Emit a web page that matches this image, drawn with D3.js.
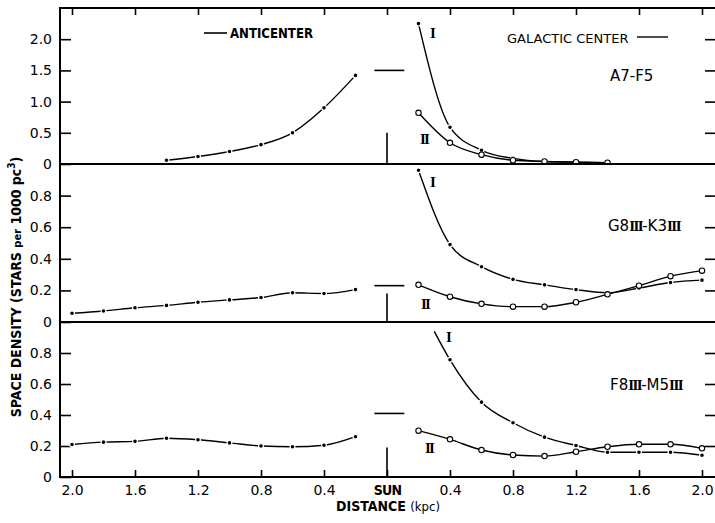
<!DOCTYPE html>
<html><head><meta charset="utf-8">
<script src="https://cdn.jsdelivr.net/npm/d3@7"></script>
<style>body{margin:0;background:#fff}svg{display:block}</style>
</head><body><svg id="c" width="715" height="523"></svg>
<script>
// ---- tick labels / categories ----
const xTickValues = [-2, -1.6, -1.2, -0.8, -0.4, 0, 0.4, 0.8, 1.2, 1.6, 2];
const topYTicks = [0, 0.5, 1.0, 1.5, 2.0];
const lowYTicks = [0, 0.2, 0.4, 0.6, 0.8];
const panelNames = ["A7-F5", "G8III-K3III", "F8III-M5III"];

// ---- A7-F5 ----
const a7AntiDist = [1.4, 1.2, 1.0, 0.8, 0.6, 0.4, 0.2];
const a7Anti     = [0.06, 0.12, 0.2, 0.31, 0.5, 0.9, 1.42];
const a7CenDist  = [0.2, 0.4, 0.6, 0.8, 1.0, 1.2, 1.4];
const a7I        = [2.25, 0.59, 0.22, 0.09, 0.04, 0.03, 0.02];
const a7II       = [0.82, 0.34, 0.15, 0.06, 0.04, 0.03, 0.02];

// ---- G8III-K3III ----
const g8AntiDist = [2.0, 1.8, 1.6, 1.4, 1.2, 1.0, 0.8, 0.6, 0.4, 0.2];
const g8Anti     = [0.055, 0.07, 0.09, 0.105, 0.125, 0.14, 0.155, 0.185, 0.18, 0.205];
const g8CenDist  = [0.2, 0.4, 0.6, 0.8, 1.0, 1.2, 1.4, 1.6, 1.8, 2.0];
const g8I        = [0.96, 0.49, 0.35, 0.27, 0.235, 0.205, 0.185, 0.215, 0.25, 0.265];
const g8II       = [0.235, 0.16, 0.115, 0.097, 0.097, 0.125, 0.175, 0.23, 0.29, 0.325];

// ---- F8III-M5III ----
const f8AntiDist = [2.0, 1.8, 1.6, 1.4, 1.2, 1.0, 0.8, 0.6, 0.4, 0.2];
const f8Anti     = [0.21, 0.225, 0.23, 0.25, 0.24, 0.22, 0.2, 0.195, 0.205, 0.26];
const f8IDist    = [0.3, 0.4, 0.6, 0.8, 1.0, 1.2, 1.4, 1.6, 1.8, 2.0];
const f8I        = [0.94, 0.756, 0.483, 0.35, 0.257, 0.203, 0.16, 0.16, 0.16, 0.14];
const f8IIDist   = [0.2, 0.4, 0.6, 0.8, 1.0, 1.2, 1.4, 1.6, 1.8, 2.0];
const f8II       = [0.299, 0.243, 0.174, 0.142, 0.135, 0.163, 0.195, 0.211, 0.211, 0.185];

// solar neighbourhood level (dash) and sun marker height per panel
const sunLevel = [1.5, 0.23, 0.41];
const sunBar   = [0.5, 0.18, 0.19];

// ---- layout ----
const svg = d3.select("#c");
const L = 60, R = 716, T = 8, B = 477;
const x = d3.scaleLinear().domain([-2, 2]).range([72, 702]);
const tickFont = "'DejaVu Sans', sans-serif";
const condFont = "'Liberation Sans Narrow','DejaVu Sans Condensed','Arial Narrow',sans-serif";
const serif = "'Liberation Serif','DejaVu Serif',serif";

const zip = (ds, vs, sign) => ds.map((d, i) => ({d: sign * d, v: vs[i]}));

const panels = [
  {yDomain: [0, 2.5], yRange: [164, 8], ticks: topYTicks, fmt: d => d === 0 ? "0" : d.toFixed(1),
   anti: zip(a7AntiDist, a7Anti, -1), I: zip(a7CenDist, a7I, 1), II: zip(a7CenDist, a7II, 1), iMarkFrom: 0,
   labI: [433, 33], labII: [424, 139], name: [610, 75]},
  {yDomain: [0, 1], yRange: [322, 164], ticks: lowYTicks, fmt: d => d === 0 ? "0" : d.toFixed(1),
   anti: zip(g8AntiDist, g8Anti, -1), I: zip(g8CenDist, g8I, 1), II: zip(g8CenDist, g8II, 1), iMarkFrom: 0,
   labI: [433, 182], labII: [425, 304], name: [608, 225]},
  {yDomain: [0, 1], yRange: [477, 322], ticks: lowYTicks, fmt: d => d === 0 ? "0" : d.toFixed(1),
   anti: zip(f8AntiDist, f8Anti, -1), I: zip(f8IDist, f8I, 1), II: zip(f8IIDist, f8II, 1), iMarkFrom: 1,
   labI: [449, 337], labII: [429, 448], name: [610, 384]}
];

panels.forEach((p, k) => {
  const y = d3.scaleLinear().domain(p.yDomain).range(p.yRange);
  const g = svg.append("g");
  // left axis
  const ax = d3.axisLeft(y).tickValues(p.ticks).tickFormat(p.fmt).tickSizeInner(-11).tickSizeOuter(0).tickPadding(8);
  const ga = g.append("g").attr("transform", `translate(${L},0)`).call(ax);
  ga.select(".domain").remove();
  ga.selectAll("line").attr("stroke", "#000").attr("stroke-width", 1.6);
  ga.selectAll("text").attr("font-family", tickFont).attr("font-size", 14).attr("fill", "#000");
  // right axis ticks
  const ar = d3.axisRight(y).tickValues(p.ticks.filter(t => t > 0)).tickFormat("").tickSizeInner(-11).tickSizeOuter(0);
  const gr = g.append("g").attr("transform", `translate(${R},0)`).call(ar);
  gr.select(".domain").remove();
  gr.selectAll("line").attr("stroke", "#000").attr("stroke-width", 1.6);

  const line = d3.line().x(d => x(d.d)).y(d => y(d.v)).curve(d3.curveMonotoneX);
  const clipId = "clip" + k;
  svg.append("clipPath").attr("id", clipId).append("rect")
    .attr("x", L).attr("y", p.yRange[1]).attr("width", R - L).attr("height", p.yRange[0] - p.yRange[1]);
  const gc = g.append("g").attr("clip-path", `url(#${clipId})`);
  [p.anti, p.I, p.II].forEach(s => {
    gc.append("path").datum(s).attr("d", line).attr("fill", "none").attr("stroke", "#000").attr("stroke-width", 1.4);
  });
  // filled markers
  gc.selectAll(".fa").data(p.anti).join("circle").attr("cx", d => x(d.d)).attr("cy", d => y(d.v))
    .attr("r", 2.4).attr("fill", "#000").attr("stroke", "#fff").attr("stroke-width", 1.2);
  gc.selectAll(".fi").data(p.I.slice(p.iMarkFrom)).join("circle").attr("cx", d => x(d.d)).attr("cy", d => y(d.v))
    .attr("r", 2.4).attr("fill", "#000").attr("stroke", "#fff").attr("stroke-width", 1.2);
  gc.selectAll(".oi").data(p.II).join("circle").attr("cx", d => x(d.d)).attr("cy", d => y(d.v))
    .attr("r", 2.7).attr("fill", "#fff").attr("stroke", "#000").attr("stroke-width", 1.1);

  // sun markers
  g.append("line").attr("x1", x(-0.08)).attr("x2", x(0.11)).attr("y1", y(sunLevel[k])).attr("y2", y(sunLevel[k]))
    .attr("stroke", "#000").attr("stroke-width", 1.6);
  g.append("line").attr("x1", x(0)).attr("x2", x(0)).attr("y1", y(0)).attr("y2", y(sunBar[k]))
    .attr("stroke", "#000").attr("stroke-width", 1.6);

  // roman labels
  g.append("text").attr("x", p.labI[0]).attr("y", p.labI[1] + 5).attr("font-family", serif).attr("font-weight", "bold")
    .attr("font-size", 15).attr("text-anchor", "middle").text("I");
  g.append("text").attr("x", p.labII[0]).attr("y", p.labII[1] + 5).attr("font-family", serif).attr("font-weight", "bold")
    .attr("font-size", 15).attr("letter-spacing", -1.8).attr("text-anchor", "middle").text("II");

  // panel name
  const nt = g.append("text").attr("x", p.name[0]).attr("y", p.name[1] + 6).attr("font-family", tickFont).attr("font-size", 15);
  const nm = panelNames[k];
  const parts = nm.split(/(III)/).filter(s => s.length);
  parts.forEach(s => {
    const ts = nt.append("tspan").text(s);
    if (s === "III") ts.attr("font-family", serif).attr("font-weight", "bold").attr("letter-spacing", -1.5);
  });
});

// frame lines
const hl = [T, 164, 322, B];
svg.selectAll(".hl").data(hl).join("line").attr("x1", L).attr("x2", R).attr("y1", d => d).attr("y2", d => d)
  .attr("stroke", "#000").attr("stroke-width", 2);
svg.append("line").attr("x1", L).attr("x2", L).attr("y1", T - 1).attr("y2", B + 1).attr("stroke", "#000").attr("stroke-width", 2);

// top ticks
const at = d3.axisTop(x).tickValues(xTickValues).tickFormat("").tickSizeInner(-7).tickSizeOuter(0);
const gt = svg.append("g").attr("transform", `translate(0,${T})`).call(at);
gt.select(".domain").remove();
gt.selectAll("line").attr("stroke", "#000").attr("stroke-width", 1.6);

// bottom axis
const ab = d3.axisBottom(x).tickValues(xTickValues).tickFormat(d => d === 0 ? "SUN" : Math.abs(d).toFixed(1))
  .tickSizeInner(-7).tickSizeOuter(0).tickPadding(8);
const gb = svg.append("g").attr("transform", `translate(0,${B})`).call(ab);
gb.select(".domain").remove();
gb.selectAll("line").attr("stroke", "#000").attr("stroke-width", 1.6);
gb.selectAll("text").attr("font-family", tickFont).attr("font-size", 14).attr("fill", "#000");
gb.selectAll("text").filter(d => d === 0).attr("font-family", condFont).attr("font-weight", "bold").attr("letter-spacing", -0.8);

// axis titles
svg.append("text").attr("x", 388).attr("y", 511).attr("text-anchor", "middle").attr("font-family", condFont)
  .attr("font-weight", "bold").attr("font-size", 14)
  .call(t => { t.append("tspan").text("DISTANCE  "); t.append("tspan").attr("font-weight", "normal").attr("font-size", 13).text("(kpc)"); });

const yl = svg.append("text").attr("transform", "translate(21,287) rotate(-90)").attr("text-anchor", "middle")
  .attr("font-family", condFont).attr("font-weight", "bold").attr("font-size", 14);
yl.append("tspan").text("SPACE DENSITY (STARS ");
yl.append("tspan").attr("font-size", 11).text("per");
yl.append("tspan").text(" 1000 pc");
yl.append("tspan").attr("font-size", 10).attr("dy", -6).text("3");
yl.append("tspan").attr("dy", 6).text(")");

// direction labels
svg.append("line").attr("x1", 204).attr("x2", 227).attr("y1", 33).attr("y2", 33).attr("stroke", "#000").attr("stroke-width", 1.6);
svg.append("text").attr("x", 230).attr("y", 38).attr("font-family", condFont).attr("font-weight", "bold")
  .attr("font-size", 14).attr("textLength", 83).attr("lengthAdjust", "spacingAndGlyphs").text("ANTICENTER");
svg.append("text").attr("x", 507).attr("y", 43).attr("font-family", tickFont).attr("font-size", 13).text("GALACTIC CENTER");
svg.append("line").attr("x1", 637).attr("x2", 668).attr("y1", 37).attr("y2", 37).attr("stroke", "#000").attr("stroke-width", 1.4);
</script></body></html>
